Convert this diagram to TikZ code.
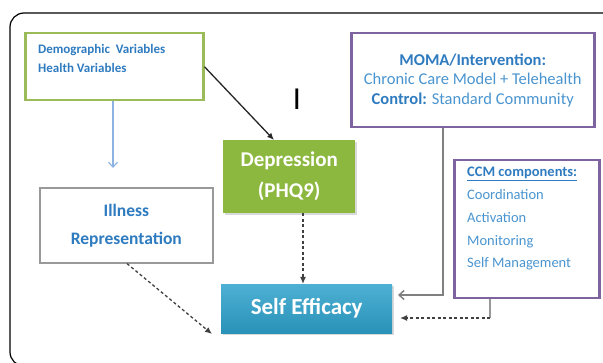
\documentclass[tikz,border=0pt]{standalone}
\usepackage{fontspec}
\setmainfont{Carlito}
\usetikzlibrary{arrows.meta,calc,shadows}
\definecolor{txtblue}{HTML}{2F7BC0}
\definecolor{lightblue}{HTML}{4A95D0}
\definecolor{olivegreen}{HTML}{9BBB59}
\definecolor{depgreen}{HTML}{8CB83F}
\definecolor{boxpurple}{HTML}{7E649E}
\definecolor{selfblue}{HTML}{2EA2CC}
\definecolor{arrowblue}{HTML}{8DB3E2}
\tikzset{
  x=1pt, y=-1pt,
  demobox/.style={draw=olivegreen, line width=2.5pt, fill=white, minimum width=178, minimum height=67, anchor=north west, inner sep=0pt},
  purplebox/.style={draw=boxpurple, line width=2.5pt, fill=white, anchor=north west, inner sep=0pt},
  graybox/.style={draw=gray!80, line width=1.6pt, fill=white, anchor=north west, inner sep=0pt, drop shadow={opacity=0.25, shadow xshift=1.5pt, shadow yshift=-1.5pt}},
  filledbox/.style={anchor=north west, inner sep=0pt, text=white, font=\bfseries, drop shadow={opacity=0.3, shadow xshift=1.5pt, shadow yshift=-2pt}},
  solidarrow/.style={-{Latex[length=7pt,width=6pt]}, line width=1.3pt, black!85},
  dasharrow/.style={-{Latex[length=7pt,width=6pt]}, line width=1.3pt, black!75, dash pattern=on 3pt off 2.5pt},
  openarrow/.style={-{Straight Barb[length=5pt,width=9pt]}, line width=1.5pt},
}
\begin{document}
\begin{tikzpicture}
\useasboundingbox (0,0) rectangle (603,363);
\begin{scope}
\clip (0,0) rectangle (603,363);
\draw[line width=1.2pt, rounded corners=14pt] (10,13) rectangle (660,366);
\end{scope}
% boxes
\node[demobox] (demo) at (24,32) {};
\node[anchor=north west, align=left, text=txtblue, font=\bfseries\fontsize{13}{19}\selectfont, inner sep=0pt] (demotxt) at (38,44) {Demographic\ \ Variables\\Health Variables};
\node[purplebox, minimum width=243, minimum height=94, align=center, text=lightblue, font=\fontsize{16.5}{19.5}\selectfont] (moma) at (350,32) {\textbf{\color{txtblue}MOMA/Intervention:}\\Chronic Care Model + Telehealth\\\textbf{\color{txtblue}Control:} Standard Community};
\node[purplebox, minimum width=145, minimum height=138] (ccm) at (453,159) {};
\node[anchor=north west, align=left, inner sep=0pt, text=lightblue, font=\fontsize{14.5}{22.8}\selectfont] (ccmtxt) at (467,167) {\textbf{\color{txtblue}\underline{CCM components:}}\\Coordination\\Activation\\Monitoring\\Self Management};
\node[graybox, minimum width=173, minimum height=75, align=center, text=txtblue, font=\bfseries\fontsize{17.5}{28}\selectfont] (ill) at (39,187) {Illness\\Representation};
\node[filledbox, fill=depgreen, minimum width=132, minimum height=73, align=center, font=\bfseries\fontsize{21}{31}\selectfont] (dep) at (223,140) {Depression\\(PHQ9)};
\node[filledbox, top color=selfblue!85!white, bottom color=selfblue!90!black, minimum width=171, minimum height=49, font=\bfseries\fontsize{23}{24}\selectfont] (self) at (221,284) {Self Efficacy};
\node[font=\fontsize{32}{32}\selectfont, inner sep=0pt] (bar) at (297,99) {I};
% connectors
\coordinate (illtop) at (113,168);
\draw[openarrow, arrowblue, line width=1.2pt] (demo.south -| illtop) -- (illtop);
\draw[solidarrow] (demo.east) -- ($(dep.north west)+(51,0)$);
\draw[dasharrow] (dep.south -| 303,0) -- (self.north -| 303,0);
\coordinate (illend) at (212,334);
\draw[dasharrow] ($(ill.south west)+(88,0)$) -- (illend);
\coordinate (m1) at (443,295);
\coordinate (m2) at (398,295);
\draw[openarrow, gray] (moma.south -| m1) -- (m1) -- (m2);
\coordinate (c1) at (490,318);
\coordinate (c2) at (400,318);
\draw[gray!80, line width=1.3pt] (ccm.south -| c1) -- (c1);
\draw[dasharrow] (c1) -- (c2);
\end{tikzpicture}
\end{document}
